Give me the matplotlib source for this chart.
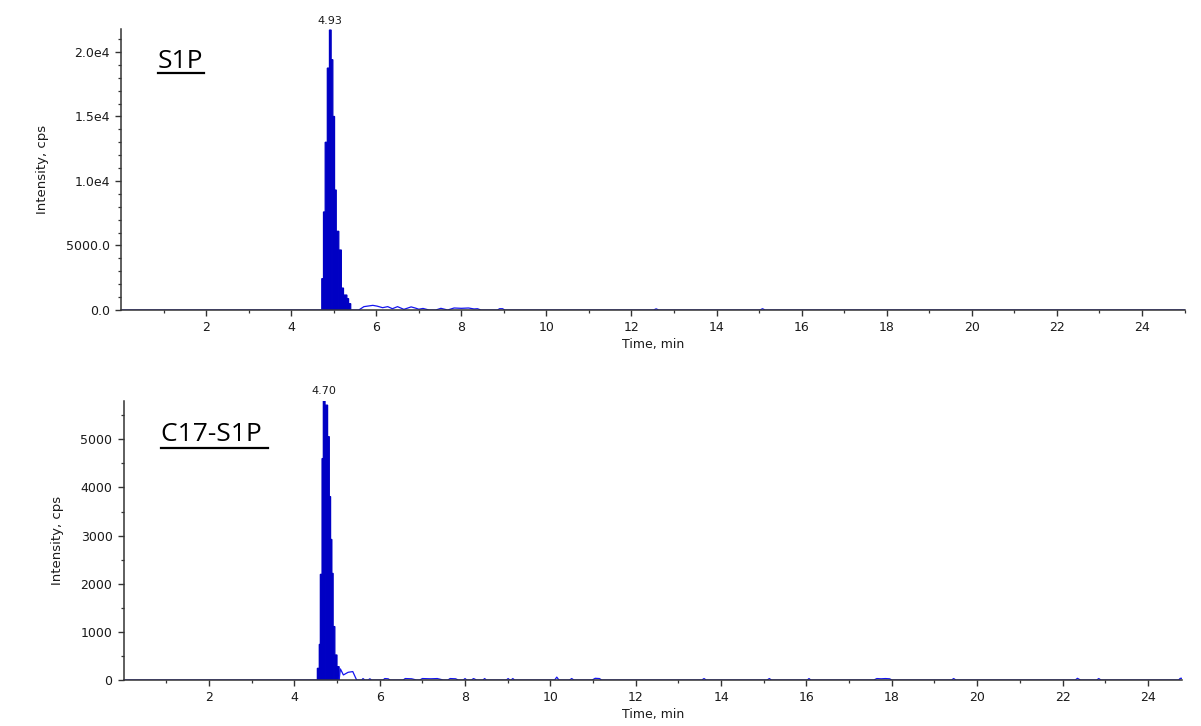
import matplotlib
matplotlib.use("Agg")
import matplotlib.pyplot as plt
from matplotlib.lines import Line2D
from matplotlib.ticker import MultipleLocator, FixedLocator

# ---- S1P trace (top) ----
s1p_peak_t = [4.72, 4.76, 4.80, 4.85, 4.90, 4.94, 4.98, 5.02, 5.06, 5.12, 5.18, 5.23, 5.31, 5.35, 5.40]
s1p_peak_y = [2430, 7600, 13000, 18750, 21700, 19400, 15000, 9300, 6100, 4650, 1700, 1160, 880, 490, 0]
s1p_trace_t = [0, 4.70, 5.40, 5.59, 5.71, 5.92, 6.02, 6.15, 6.27, 6.38, 6.50, 6.65, 6.82, 6.92,
               7.00, 7.10, 7.24, 7.40, 7.52, 7.68, 7.83, 8.00, 8.17, 8.30, 8.38, 8.46, 8.85,
               8.90, 8.97, 9.02, 12.52, 12.58, 12.64, 15.02, 15.08, 15.14, 25]
s1p_trace_y = [0, 0, 0, 0, 260, 360, 300, 180, 260, 100, 260, 50, 240, 150,
               60, 120, 0, 0, 130, 0, 155, 130, 155, 80, 100, 0, 0,
               100, 100, 0, 0, 90, 0, 0, 100, 0, 0]
s1p_apex_label = "4.93"
s1p_yticks = [0, 5000, 10000, 15000, 20000]
s1p_yticklabels = ["0.0", "5000.0", "1.0e4", "1.5e4", "2.0e4"]

# ---- C17-S1P trace (bottom) ----
c17_peak_t = [4.54, 4.585, 4.61, 4.65, 4.68, 4.72, 4.78, 4.82, 4.85, 4.88, 4.91, 4.95, 5.00, 5.05]
c17_peak_y = [243, 740, 2195, 4600, 5815, 5710, 5055, 3810, 2920, 2215, 1110, 520, 277, 0]
c17_trace_t = [0, 4.50, 5.05, 5.08, 5.15, 5.26, 5.37, 5.46, 5.58, 5.61, 5.65, 5.73, 5.77, 5.81,
               6.08, 6.12, 6.20, 6.24, 6.55, 6.60, 6.75, 6.86, 6.94, 7.00, 7.20, 7.35, 7.49,
               7.60, 7.65, 7.78, 7.84, 7.96, 8.00, 8.04, 8.15, 8.20, 8.27, 8.42, 8.46, 8.50,
               8.97, 9.01, 9.05, 9.08, 9.12, 9.16, 10.10, 10.15, 10.20, 10.45, 10.50, 10.55,
               10.98, 11.05, 11.15, 11.20, 13.55, 13.60, 13.65, 15.08, 15.13, 15.18, 16.02,
               16.06, 16.10, 17.58, 17.65, 17.75, 17.85, 17.95, 18.00, 19.40, 19.45, 19.50,
               22.30, 22.35, 22.42, 22.80, 22.85, 22.90, 24.72, 24.76, 24.80]
c17_trace_y = [0, 0, 0, 230, 105, 160, 175, 0, 0, 30, 0, 0, 25, 0,
               0, 30, 25, 0, 0, 30, 25, 0, 0, 30, 25, 30, 0,
               0, 30, 25, 0, 0, 30, 0, 0, 30, 0, 0, 30, 0,
               0, 30, 0, 0, 30, 0, 0, 60, 0, 0, 30, 0,
               0, 35, 30, 0, 0, 30, 0, 0, 30, 0, 0,
               30, 0, 0, 30, 25, 30, 25, 0, 0, 30, 0,
               0, 35, 0, 0, 30, 0, 0, 35, 35]
c17_apex_label = "4.70"
c17_yticks = [0, 1000, 2000, 3000, 4000, 5000]
c17_yticklabels = ["0", "1000", "2000", "3000", "4000", "5000"]

xticks = [2, 4, 6, 8, 10, 12, 14, 16, 18, 20, 22, 24]
xticklabels = [str(v) for v in xticks]

FILL = "#0000C4"
LINE = "#1414F0"
AXC = "#333333"

fig = plt.figure(figsize=(12.01, 7.26), dpi=100)
ax1 = fig.add_axes([121 / 1201, 1 - 310 / 726, 1063.5 / 1201, 281 / 726])
ax2 = fig.add_axes([123.6 / 1201, 1 - 680 / 726, 1058.4 / 1201, 279.3 / 726])


def draw_panel(ax, pt, py, tt, ty, ymax, xmax, yticks, yticklabels, ymin_step, apex_label):
    ax.plot(tt, ty, color=LINE, lw=0.9, zorder=2)
    # integrated peak: one filled bar per scan
    widths = [b - a for a, b in zip(pt[:-1], pt[1:])]
    ax.bar(pt[:-1], py[:-1], width=widths, align="edge", color=FILL,
           edgecolor=FILL, linewidth=0.9, snap=False, zorder=1)
    ax.set_xlim(0, xmax)
    ax.set_ylim(0, ymax)
    for s in ["top", "right"]:
        ax.spines[s].set_visible(False)
    for s in ["left", "bottom"]:
        ax.spines[s].set_color(AXC)
        ax.spines[s].set_linewidth(1.1)
        ax.spines[s].set_zorder(3)
    ax.xaxis.set_major_locator(FixedLocator(xticks))
    ax.set_xticklabels(xticklabels)
    ax.xaxis.set_minor_locator(FixedLocator([v for v in range(1, 26, 2)]))
    ax.yaxis.set_major_locator(FixedLocator(yticks))
    ax.set_yticklabels(yticklabels)
    ax.yaxis.set_minor_locator(MultipleLocator(ymin_step))
    ax.tick_params(which="major", length=4, width=1.0, color=AXC, labelsize=9,
                   labelcolor="#1a1a1a", pad=4)
    ax.tick_params(which="minor", length=2.5, width=0.9, color=AXC)
    ax.set_xlabel("Time, min", fontsize=9, color="#1a1a1a", labelpad=3)
    ax.set_ylabel("Intensity, cps", fontsize=9.5, color="#1a1a1a", labelpad=12)
    # apex label above the tallest step
    i = py.index(max(py))
    xc = (pt[i] + pt[i + 1]) / 2
    ax.annotate(apex_label, xy=(xc, py[i]), xytext=(0, 3), textcoords="offset points",
                ha="center", va="bottom", fontsize=8, color="#1a1a1a",
                annotation_clip=False)


draw_panel(ax1, s1p_peak_t, s1p_peak_y, s1p_trace_t, s1p_trace_y, 21780, 25,
           s1p_yticks, s1p_yticklabels, 1000, s1p_apex_label)
draw_panel(ax2, c17_peak_t, c17_peak_y, c17_trace_t, c17_trace_y, 5802, 24.8,
           c17_yticks, c17_yticklabels, 500, c17_apex_label)

# compound names, underlined
t1 = fig.text(158 / 1201, 1 - 68.5 / 726, "S1P", fontsize=19, family="Open Sans",
              ha="left", va="baseline")
t2 = fig.text(160.7 / 1201, 1 - 441 / 726, "C17-S1P ", fontsize=19, family="Open Sans",
              ha="left", va="baseline")
fig.canvas.draw()
r = fig.canvas.get_renderer()
W, H = fig.bbox.width, fig.bbox.height
for t, uy in [(t1, 73), (t2, 447.7)]:
    bb = t.get_window_extent(renderer=r)
    y = 1 - uy / 726
    fig.add_artist(Line2D([bb.x0 / W, bb.x1 / W], [y, y], color="black", lw=1.6))

fig.savefig("out.png", dpi=100)
